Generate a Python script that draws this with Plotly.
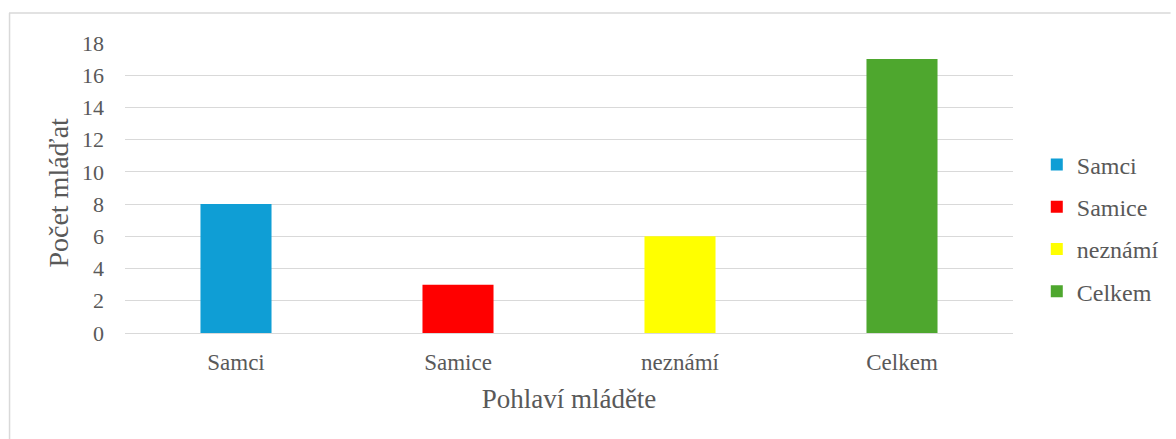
import plotly.graph_objects as go

categories = ["Samci", "Samice", "neznámí", "Celkem"]
values = [8, 3, 6, 17]
colors = ["#0F9ED5", "#FF0000", "#FFFF00", "#4EA72E"]
y_ticks = list(range(0, 19, 2))

FONT = "Liberation Serif, Times New Roman, serif"
TXT = "#595959"
GRID = "#d9d9d9"

W, H = 1176, 439
L, R, T, B = 125, 1021, 43, 333

fig = go.Figure()
for i, (c, v, col) in enumerate(zip(categories, values, colors)):
    fig.add_trace(go.Bar(
        x=[c], y=[v], name=c, marker=dict(color=col, line=dict(width=0)),
        width=0.32, legendgroup=f"g{i}", hoverinfo="x+y",
    ))

def px_x(x):
    return (x - L) / (R - L)

def px_y(y):
    return (B - y) / (B - T)

fig.update_layout(
    width=W, height=H,
    margin=dict(l=L, r=W - R, t=T, b=H - B, pad=0),
    paper_bgcolor="white", plot_bgcolor="white",
    barmode="overlay",
    font=dict(family=FONT, color=TXT, size=23),
    showlegend=True,
    legend=dict(
        x=px_x(1045), y=px_y(228), xanchor="left", yanchor="middle",
        font=dict(family=FONT, size=24, color=TXT),
        tracegroupgap=8, itemwidth=30, traceorder="grouped",
        bgcolor="rgba(0,0,0,0)",
    ),
    xaxis=dict(
        categoryorder="array", categoryarray=categories,
        range=[-0.5, 3.5], showgrid=False, showline=False, zeroline=False,
        ticks="", ticklabelstandoff=13,
        tickfont=dict(family=FONT, size=23, color=TXT),
        title=dict(text="Pohlaví mláděte", font=dict(family=FONT, size=27, color=TXT), standoff=15),
        fixedrange=True,
    ),
    yaxis=dict(
        range=[0, 18], tickvals=y_ticks, showgrid=True, gridcolor=GRID, gridwidth=1.3,
        zeroline=True, zerolinecolor=GRID, zerolinewidth=1.3, showline=False,
        ticks="", ticklabelstandoff=20,
        tickfont=dict(family=FONT, size=22, color=TXT),
        fixedrange=True,
    ),
    annotations=[
        dict(text="Počet mláďat", textangle=-90, xref="paper", yref="paper",
             x=px_x(57.5), y=px_y(192.5), xanchor="center", yanchor="middle",
             showarrow=False, font=dict(family=FONT, size=28, color=TXT)),
    ],
    shapes=[
        dict(type="line", xref="paper", yref="paper",
             x0=px_x(8), x1=px_x(1180), y0=px_y(13), y1=px_y(13),
             line=dict(color=GRID, width=1.5), layer="below"),
        dict(type="line", xref="paper", yref="paper",
             x0=px_x(8.5), x1=px_x(8.5), y0=px_y(13), y1=px_y(445),
             line=dict(color=GRID, width=1.5), layer="below"),
    ],
)

fig.write_html(
    "out.html",
    config={"displayModeBar": False},
    post_script="document.body.style.margin='0';document.body.style.overflow='hidden';",
)
